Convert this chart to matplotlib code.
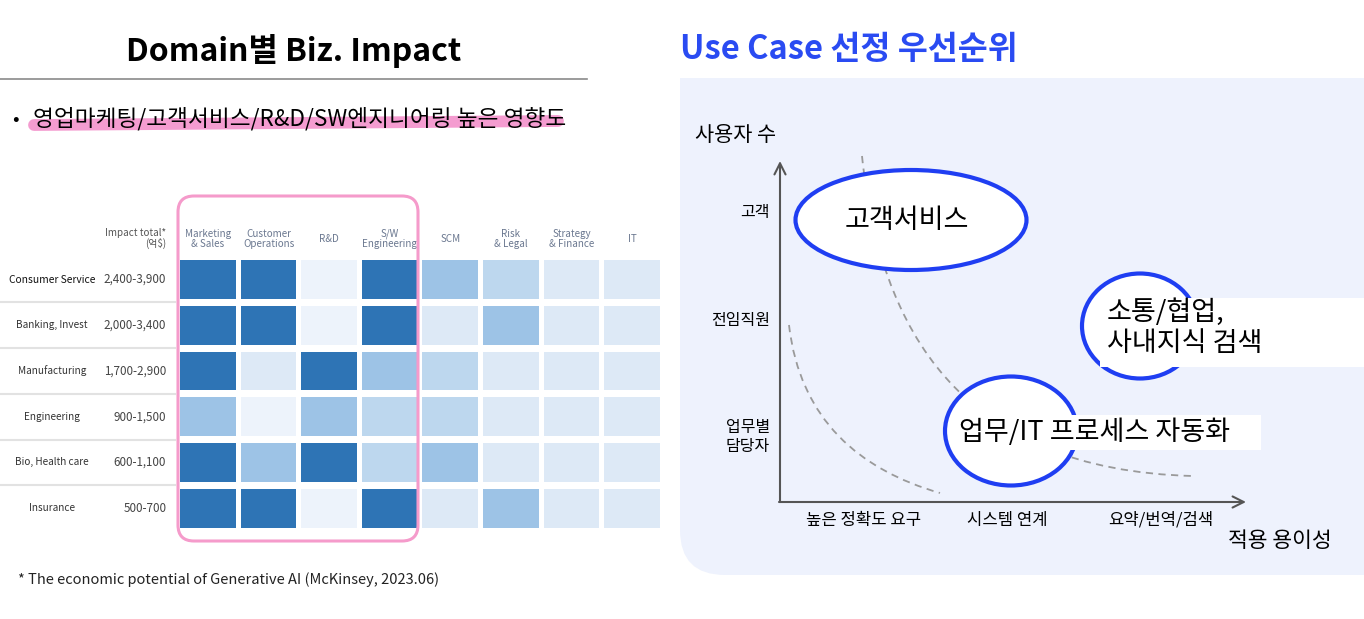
import matplotlib.pyplot as plt
import numpy as np
from matplotlib.patches import Rectangle, Ellipse, FancyBboxPatch, PathPatch
from matplotlib.path import Path

plt.rcParams['font.family'] = ['Noto Sans CJK KR', 'DejaVu Sans']

# 데이터
domains = ['Consumer Service', 'Banking, Invest', 'Manufacturing', 'Engineering',
           'Bio, Health care', 'Insurance']
impact_ranges = ['2,400-3,900', '2,000-3,400', '1,700-2,900', '900-1,500',
                 '600-1,100', '500-700']
functions = ['Marketing\n& Sales', 'Customer\nOperations', 'R&D', 'S/W\nEngineering',
             'SCM', 'Risk\n& Legal', 'Strategy\n& Finance', 'IT']
# 영향도 단계 (0: 매우 낮음 ~ 4: 매우 높음)
impact_levels = [
    [4, 4, 0, 4, 3, 2, 1, 1],
    [4, 4, 0, 4, 1, 3, 1, 1],
    [4, 1, 4, 3, 2, 1, 1, 1],
    [3, 0, 3, 2, 2, 1, 1, 1],
    [4, 3, 4, 2, 3, 1, 1, 1],
    [4, 4, 0, 4, 1, 3, 1, 1],
]
level_colors = ['#EDF3FB', '#DDE9F6', '#BDD7EE', '#9DC3E6', '#2E74B5']

y_levels = ['고객', '전임직원', '업무별\n담당자']
x_levels = ['높은 정확도 요구', '시스템 연계', '요약/번역/검색']

fig = plt.figure(figsize=(13.64, 6.19), dpi=100)
W, H = 1364, 619

# 배경 (픽셀 좌표)
bg = fig.add_axes([0, 0, 1, 1])
bg.set_xlim(0, W)
bg.set_ylim(H, 0)
bg.axis('off')

# ---------------- 왼쪽: Domain별 Biz. Impact ----------------
bg.text(294, 51, 'Domain별 Biz. Impact', fontsize=23, fontweight='bold',
        ha='center', va='center', color='black')
bg.plot([0, 587], [79, 79], color='#8a8a8a', lw=1.2)

bg.plot([34, 558], [125, 121], color='#F49CD0', lw=8.5, solid_capstyle='round', zorder=1)
bg.text(12, 120, '•', fontsize=14, ha='left', va='center', zorder=2)
bg.text(33, 119, '영업마케팅/고객서비스/R&D/SW엔지니어링 높은 영향도', fontsize=16.3,
        fontweight='medium', ha='left', va='center', zorder=2)

# 히트맵
x0, x1, y0, y1 = 177.75, 662.25, 256.75, 531
hm = fig.add_axes([x0 / W, 1 - y1 / H, (x1 - x0) / W, (y1 - y0) / H])
hm.set_xlim(0, len(functions))
hm.set_ylim(len(domains), 0)
hm.axis('off')

for i, row in enumerate(impact_levels):
    for j, v in enumerate(row):
        hm.add_patch(Rectangle((j + 0.04, i + 0.075), 0.92, 0.85,
                               facecolor=level_colors[v], edgecolor='none'))

for i, (d, r) in enumerate(zip(domains, impact_ranges)):
    hm.text(-2.08, i + 0.5, d, fontsize=7.4 if i == 0 else 7.2, ha='center', va='center',
            clip_on=False, color='#111111' if i == 0 else '#333333',
            fontweight='medium' if i == 0 else 'normal')
    hm.text(-0.19, i + 0.5, r, fontsize=8.4, ha='right', va='center', clip_on=False,
            color='#444444')
    if i > 0:
        hm.plot([-2.93, -0.05], [i, i], color='#e2e2e2', lw=1.5, clip_on=False)

for j, f in enumerate(functions):
    hm.text(j + 0.5, -0.39, f, fontsize=7.1, ha='center', va='center', clip_on=False,
            color='#6B7890', linespacing=1.0)
hm.text(-0.19, -0.39, 'Impact total*\n(억$)', fontsize=7.1, ha='right', va='center',
        clip_on=False, color='#555555', linespacing=1.0)

# 강조 박스
hm.add_patch(FancyBboxPatch((178, 196), 240, 345, boxstyle='round,pad=0,rounding_size=16',
                            transform=bg.transData, facecolor='none', edgecolor='#F59BCB',
                            lw=2.2, clip_on=False, zorder=5))

bg.text(18, 580, '* The economic potential of Generative AI (McKinsey, 2023.06)',
        fontsize=10.5, ha='left', va='center', color='#222222')

# ---------------- 오른쪽: Use Case 선정 우선순위 ----------------
bg.text(680, 49, 'Use Case 선정 우선순위', fontsize=23.5, fontweight='bold',
        ha='left', va='center', color='#2A4BF2')

panel = Path([(680, 78), (1364, 78), (1364, 575), (725, 575), (680, 575), (680, 530), (680, 78)],
             [Path.MOVETO, Path.LINETO, Path.LINETO, Path.LINETO, Path.CURVE3, Path.CURVE3,
              Path.CLOSEPOLY])
bg.add_patch(PathPatch(panel, facecolor='#EEF2FD', edgecolor='none', zorder=0))

# 축 화살표
arrow = dict(arrowstyle='->', color='#555555', lw=1.5, mutation_scale=20, shrinkA=0, shrinkB=0)
bg.annotate('', xy=(780, 161), xytext=(780, 502), arrowprops=arrow, zorder=3)
bg.annotate('', xy=(1246, 502), xytext=(779, 502), arrowprops=arrow, zorder=3)

# 점선 곡선
curve_a = Path([(862, 156), (880, 330), (960, 470), (1193, 476)],
               [Path.MOVETO, Path.CURVE4, Path.CURVE4, Path.CURVE4])
curve_b = Path([(789, 325), (800, 420), (860, 470), (940, 493)],
               [Path.MOVETO, Path.CURVE4, Path.CURVE4, Path.CURVE4])
for c in (curve_a, curve_b):
    bg.add_patch(PathPatch(c, facecolor='none', edgecolor='#9a9a9a', lw=1.3,
                           linestyle=(0, (4, 3)), zorder=2))

# 타원
blue = '#1F3EF2'
bg.add_patch(Ellipse((911, 220), 231, 100, facecolor='white', edgecolor=blue, lw=3, zorder=3))
bg.add_patch(Ellipse((1140, 326), 116, 105, facecolor='white', edgecolor=blue, lw=3, zorder=3))
bg.add_patch(Ellipse((1011, 431), 132, 109, facecolor='white', edgecolor=blue, lw=3, zorder=3))

# 텍스트 박스 (흰 배경)
bg.add_patch(Rectangle((1100, 298), 264, 69, facecolor='white', edgecolor='none', zorder=4))
bg.add_patch(Rectangle((953, 415), 308, 35, facecolor='white', edgecolor='none', zorder=4))

bg.text(907, 220, '고객서비스', fontsize=19.5, fontweight='medium', ha='center', va='center',
        zorder=5)
bg.text(1107, 328, '소통/협업,\n사내지식 검색', fontsize=19.5, fontweight='medium', ha='left',
        va='center', linespacing=1.2, zorder=5)
bg.text(959, 432, '업무/IT 프로세스 자동화', fontsize=19.5, fontweight='medium', ha='left',
        va='center', zorder=5)

bg.text(695, 135, '사용자 수', fontsize=15, ha='left', va='center', zorder=5)
bg.text(1228, 541, '적용 용이성', fontsize=15.5, ha='left', va='center', zorder=5)

for lab, y in zip(y_levels, [213, 320, 437]):
    bg.text(770, y, lab, fontsize=11.5, fontweight='medium', ha='right', va='center',
            linespacing=1.1, zorder=5)
for lab, x in zip(x_levels, [864, 1007, 1161]):
    bg.text(x, 520, lab, fontsize=12, fontweight='medium', ha='center', va='center', zorder=5)

fig.savefig('out.png', dpi=100)
